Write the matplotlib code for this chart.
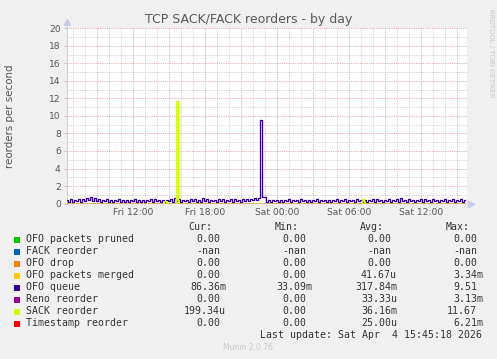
import numpy as np
import matplotlib
matplotlib.use('Agg')
import matplotlib.pyplot as plt
from matplotlib.patches import Rectangle

# horas desde sexta 00:00, uma amostra a cada 10 minutos
inicio = 6.5
passo = 1.0 / 6

ofo_queue = [
    0.45, 0.20, 0.50, 0.15, 0.40, 0.25, 0.55, 0.20, 0.50, 0.30, 0.65, 0.35, 0.70, 0.30, 0.60, 0.25, 0.55, 0.20, 0.45, 0.25,
    0.50, 0.20, 0.40, 0.15, 0.45, 0.25, 0.50, 0.20, 0.35, 0.15, 0.40, 0.20, 0.45, 0.25, 0.50, 0.20, 0.40, 0.15, 0.35, 0.20,
    0.45, 0.25, 0.55, 0.20, 0.50, 0.25, 0.40, 0.20, 0.45, 0.15, 0.40, 0.25, 0.50, 0.20, 0.60, 0.30, 0.55, 0.20, 0.45, 0.25,
    0.40, 0.20, 0.50, 0.25, 0.55, 0.20, 0.45, 0.15, 0.60, 0.25, 0.50, 0.20, 0.45, 0.25, 0.40, 0.20, 0.50, 0.30, 0.55, 0.20,
    0.45, 0.25, 0.50, 0.20, 0.55, 0.30, 0.45, 0.20, 0.50, 0.25, 0.55, 0.30, 0.50, 0.35, 0.60, 0.40, 0.60, 9.51, 0.70, 0.70,
    0.20, 0.45, 0.15, 0.40, 0.25, 0.45, 0.20, 0.40, 0.15, 0.45, 0.25, 0.50, 0.20, 0.40, 0.25, 0.45, 0.20, 0.55, 0.25, 0.45,
    0.20, 0.40, 0.15, 0.45, 0.25, 0.50, 0.20, 0.45, 0.25, 0.40, 0.20, 0.45, 0.15, 0.40, 0.25, 0.50, 0.20, 0.45, 0.25, 0.55,
    0.20, 0.45, 0.25, 0.40, 0.20, 0.50, 0.25, 0.45, 0.20, 0.40, 0.15, 0.45, 0.25, 0.50, 0.20, 0.55, 0.25, 0.45, 0.20, 0.40,
    0.25, 0.50, 0.20, 0.45, 0.25, 0.55, 0.20, 0.60, 0.25, 0.45, 0.20, 0.50, 0.25, 0.40, 0.15, 0.45, 0.25, 0.50, 0.20, 0.55,
    0.25, 0.45, 0.20, 0.50, 0.25, 0.40, 0.20, 0.45, 0.25, 0.55, 0.20, 0.45, 0.25, 0.50, 0.20, 0.45, 0.25, 0.50, 0.20, 0.45,
]

# SACK reorder: so as amostras diferentes de zero
sack_horas = [14.67, 15.67, 31.17]
sack_valores = [0.30, 11.67, 0.50]

nomes = ['OFO packets pruned', 'FACK reorder', 'OFO drop', 'OFO packets merged',
         'OFO queue', 'Reno reorder', 'SACK reorder', 'Timestamp reorder']
cores = ['#00CC00', '#0066B3', '#FF8000', '#FFCC00', '#330099', '#990099', '#CCFF00', '#FF0000']
cur = ['0.00', '-nan', '0.00', '0.00', '86.36m', '0.00', '199.34u', '0.00']
mins = ['0.00', '-nan', '0.00', '0.00', '33.09m', '0.00', '0.00', '0.00']
avgs = ['0.00', '-nan', '0.00', '41.67u', '317.84m', '33.33u', '36.16m', '25.00u']
maxs = ['0.00', '-nan', '0.00', '3.34m', '9.51', '3.13m', '11.67', '6.21m']

rotulos_x = {12: 'Fri 12:00', 18: 'Fri 18:00', 24: 'Sat 00:00', 30: 'Sat 06:00', 36: 'Sat 12:00'}

W, H = 497, 359


def fx(px):
    return px / W


def fy(py):
    return 1 - py / H


fig = plt.figure(figsize=(W / 100, H / 100), dpi=100, facecolor='#F0F0F0')
ax = fig.add_axes([fx(67), fy(203.5), 400 / W, 175 / H])
ax.set_facecolor('white')

n = len(ofo_queue)
horas = inicio + np.arange(n) * passo
zeros = np.zeros(n)
sack = np.zeros(n)
for h, v in zip(sack_horas, sack_valores):
    sack[int(round((h - inicio) / passo))] = v

series = [zeros, None, zeros, zeros, np.array(ofo_queue), zeros, sack, zeros]
for s, c in zip(series, cores):
    if s is None:
        continue  # FACK e -nan, nada a desenhar
    ax.plot(horas, s, color=c, lw=0.9, drawstyle='steps-mid', zorder=3)

ax.set_xlim(inicio, inicio + 400 / 12)
ax.set_ylim(0, 20)

# grade estilo rrdtool
ax.set_xticks(np.arange(9, 40, 3))
ax.set_xticklabels([rotulos_x.get(int(t), '') for t in np.arange(9, 40, 3)])
ax.set_xticks(np.arange(7, 40, 1), minor=True)
ax.set_yticks(np.arange(0, 21, 2))
ax.set_yticks(np.arange(0, 21, 1), minor=True)
ax.grid(which='minor', color='#c4c4c4', lw=0.65, linestyle=(0, (0.8, 1.2)), zorder=1)
ax.grid(which='major', color='#e39090', lw=0.65, linestyle=(0, (0.8, 1.2)), zorder=2)
ax.set_axisbelow(True)

ax.tick_params(axis='x', which='both', length=0, pad=3.5, labelsize=6.6, labelcolor='#555555')
ax.tick_params(axis='y', which='major', length=2, width=0.6, color='#bbbbbb', pad=2.5,
               labelsize=6.6, labelcolor='#555555')
ax.tick_params(axis='y', which='minor', length=0)

for lado in ['top', 'right', 'bottom']:
    ax.spines[lado].set_visible(False)
ax.spines['left'].set_color('#c8c8f0')
ax.spines['left'].set_linewidth(0.7)

# setas dos eixos
ax.plot([0, 0], [1.0, 1.03], color='#c8c8f0', lw=0.7, transform=ax.transAxes, clip_on=False)
ax.plot([0], [1.035], marker='^', ms=4, color='#c8c8f0', transform=ax.transAxes, clip_on=False)
ax.plot([1.0, 1.006], [0, 0], color='#c8c8f0', lw=0.7, transform=ax.transAxes, clip_on=False)
ax.plot([1.01], [0], marker='>', ms=4, color='#c8c8f0', transform=ax.transAxes, clip_on=False)

fig.text(fx(10), fy(116), 'reorders per second', rotation=90, ha='center', va='center',
         fontsize=7.4, color='#555555')

fig.text(0.5, fy(19), 'TCP SACK/FACK reorders - by day', ha='center', va='center',
         fontsize=9, color='#5a5a5a')
fig.text(fx(491), fy(53), 'RRDTOOL / TOBI OETIKER', rotation=270, ha='center', va='center',
         fontsize=5, color='#c8c8c8')

# tabela da legenda
mono = 'DejaVu Sans Mono'
fs = 7.1
cw = 5.95
cabecalho = [('Cur:', 212.5), ('Min:', 298.5), ('Avg:', 383.5), ('Max:', 469.5)]
for txt, xr in cabecalho:
    fig.text(fx(xr), fy(227), txt, ha='right', va='center', family=mono, fontsize=fs, color='#333333')

colunas = [(cur, 226), (mins, 312), (avgs, 397), (maxs, 483)]
for i, nome in enumerate(nomes):
    yc = 239.5 + 12 * i
    fig.add_artist(Rectangle((fx(14), fy(yc + 3)), 6 / W, 6 / H, transform=fig.transFigure,
                             facecolor=cores[i], edgecolor='none'))
    fig.text(fx(26), fy(yc), nome, ha='left', va='center', family=mono, fontsize=fs, color='#333333')
    for vals, xr in colunas:
        v = vals[i]
        xx = xr if v[-1] in 'mu' else xr - cw
        fig.text(fx(xx), fy(yc), v, ha='right', va='center', family=mono, fontsize=fs, color='#333333')

fig.text(fx(482), fy(335.5), 'Last update: Sat Apr  4 15:45:18 2026', ha='right', va='center',
         family=mono, fontsize=fs, color='#333333')
fig.text(fx(248), fy(348), 'Munin 2.0.76', ha='center', va='center', fontsize=5.5, color='#c8c8c8')

fig.savefig('out.png', dpi=100, facecolor=fig.get_facecolor())
